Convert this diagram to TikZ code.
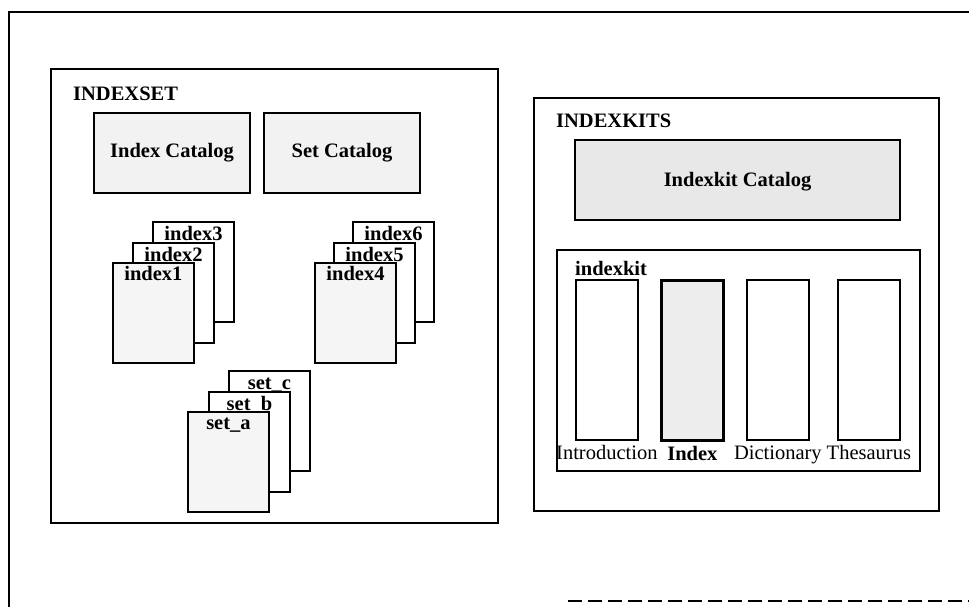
\documentclass[tikz,border=0pt]{standalone}
\usepackage{fontspec}
\setmainfont{Liberation Serif}
\begin{document}
\begin{tikzpicture}[x=1pt,y=-1pt,
  frame/.style={line width=2.6pt},
  panel/.style={draw, line width=2.3pt, inner sep=0pt, anchor=north west},
  catalog/.style={draw, line width=2pt, fill=black!5, inner sep=0pt, anchor=north west},
  page/.style={draw, line width=1.9pt, fill=white, inner sep=0pt, anchor=north west,
               minimum width=81pt, minimum height=100pt},
  frontpage/.style={page, fill=black!4},
  column/.style={draw, line width=1.7pt, fill=white, inner sep=0pt, anchor=north west,
                 minimum width=62pt, minimum height=160pt},
  title/.style={font=\fontsize{20.5}{23}\selectfont\bfseries, inner sep=0pt},
  caption/.style={font=\fontsize{20.5}{23}\selectfont, inner sep=0pt, anchor=base}
]
\useasboundingbox (0,0) rectangle (969,607);

% outer frame, cut off at the right and along the bottom
\coordinate (ftr) at (969,12);
\coordinate (ftl) at (9,12);
\coordinate (fbl) at (9,607);
\draw[frame] (ftr) -- (ftl) -- (fbl);
\coordinate (fbs) at (568,601);
\coordinate (fbe) at (969,601);
\draw[frame, dash pattern=on 14pt off 6pt] (fbs) -- (fbe);

% ---------- INDEXSET ----------
\node[panel, minimum width=447pt, minimum height=454pt] (indexset) at (50,68) {};
\node[title, anchor=base west] (indexsetlbl) at (73,101) {INDEXSET};

\node[catalog, minimum width=156pt, minimum height=80pt] (icat) at (93,112) {};
\node[title] (icatlbl) at (icat.center) {Index Catalog};
\node[catalog, minimum width=156pt, minimum height=80pt] (scat) at (263,112) {};
\node[title] (scatlbl) at (scat.center) {Set Catalog};

% index pages, back to front
\node[page] (i3) at (152,221) {};
\node[title, anchor=base] (i3lbl) at ([yshift=-19pt]i3.north) {index3};
\node[page] (i2) at (132,242) {};
\node[title, anchor=base] (i2lbl) at ([yshift=-19pt]i2.north) {index2};
\node[frontpage] (i1) at (112,262) {};
\node[title, anchor=base] (i1lbl) at ([yshift=-18pt]i1.north) {index1};

\node[page] (i6) at (352,221) {};
\node[title, anchor=base] (i6lbl) at ([yshift=-19pt]i6.north) {index6};
\node[page] (i5) at (333,242) {};
\node[title, anchor=base] (i5lbl) at ([yshift=-19pt]i5.north) {index5};
\node[frontpage] (i4) at (314,262) {};
\node[title, anchor=base] (i4lbl) at ([yshift=-18pt]i4.north) {index4};

% set pages, back to front
\node[page] (sc) at (228,370) {};
\node[title, anchor=base] (sclbl) at ([yshift=-19pt]sc.north) {set\_c};
\node[page] (sb) at (208,391) {};
\node[title, anchor=base] (sblbl) at ([yshift=-19pt]sb.north) {set\_b};
\node[frontpage] (sa) at (187,411) {};
\node[title, anchor=base] (salbl) at ([yshift=-18pt]sa.north) {set\_a};

% ---------- INDEXKITS ----------
\node[panel, minimum width=405pt, minimum height=413pt] (indexkits) at (533,97) {};
\node[title, anchor=base west] (indexkitslbl) at (556,128) {INDEXKITS};

\node[catalog, fill=black!9, minimum width=325pt, minimum height=80pt] (kcat) at (574,139) {};
\node[title] (kcatlbl) at ([yshift=-2pt]kcat.center) {Indexkit Catalog};

\node[panel, line width=1.6pt, minimum width=363pt, minimum height=221pt] (kit) at (556,249) {};
\node[title, anchor=base west] (kitlbl) at (575,275) {indexkit};

\node[column] (cintro) at (575,279) {};
\node[column, fill=black!7, line width=2.8pt] (cindex) at (660,279) {};
\node[column] (cdict) at (746,279) {};
\node[column] (cthes) at (837,279) {};

\node[caption] (cintrolbl) at ([yshift=-19pt]cintro.south) {Introduction};
\node[caption, font=\fontsize{20.5}{23}\selectfont\bfseries] (cindexlbl) at ([yshift=-19pt]cindex.south) {Index};
\node[caption] (cdictlbl) at ([yshift=-19pt]cdict.south) {Dictionary};
\node[caption] (cthesllbl) at ([yshift=-19pt]cthes.south) {Thesaurus};
\end{tikzpicture}
\end{document}
